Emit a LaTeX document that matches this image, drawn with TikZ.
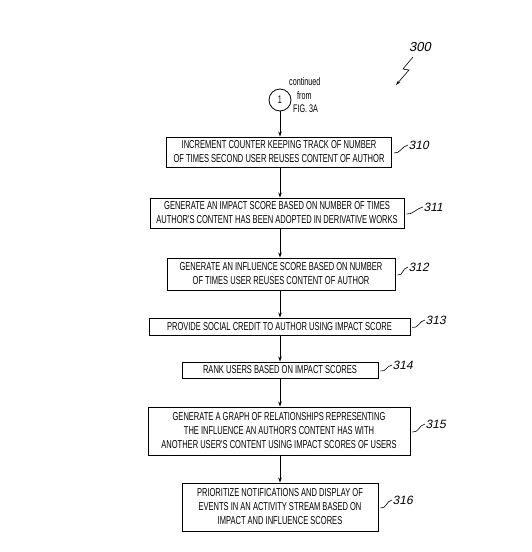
\documentclass[tikz,border=0pt]{standalone}
\usepackage{fontspec}
\setmainfont{Liberation Sans}
\newfontfamily\condfont[FakeStretch=0.655]{Liberation Sans}
\newfontfamily\reffont[FakeSlant=0.2]{Liberation Sans}
\usetikzlibrary{arrows.meta}
\tikzset{
  stepbox/.style={draw,line width=0.9pt,inner sep=0pt,align=center,
    font=\condfont\fontsize{11.5}{14}\selectfont},
  flow/.style={line width=0.8pt,-{Stealth[length=5pt,width=3.5pt]}},
  reflabel/.style={anchor=west,inner sep=0.5pt,font=\reffont\fontsize{12}{12}\selectfont},
  squig/.style={line width=0.6pt}
}
\begin{document}
\begin{tikzpicture}[x=1pt,y=-1pt]
  \useasboundingbox (0,0) rectangle (532,552);
  % connector and its note
  \node[draw,circle,line width=0.8pt,minimum size=22pt,inner sep=0pt,
    font=\condfont\fontsize{11}{11}\selectfont] (c1) at (280,100) {1};
  \begin{scope}[font=\condfont\fontsize{11}{11}\selectfont,inner sep=0pt]
    \node[anchor=west] (cont) at (289,82) {continued};
    \node[anchor=west] (from) at (297,96) {from};
    \node[anchor=west] (fig) at (293,109) {FIG. 3A};
  \end{scope}
  % reference numeral of the figure
  \node[font=\reffont\fontsize{13}{13}\selectfont,inner sep=0pt] (l300) at (420,47) {300};
  \coordinate (z300) at (396,85);
  \draw[line width=0.6pt,-{Stealth[length=5pt,width=3pt]}]
    (413,57) -- (403,69) -- (409,70) -- (z300);
  % steps
  \node[stepbox,minimum width=225pt,minimum height=30pt] (s310) at (279,152)
    {INCREMENT COUNTER KEEPING TRACK OF NUMBER\\OF TIMES SECOND USER REUSES CONTENT OF AUTHOR};
  \node[stepbox,minimum width=254pt,minimum height=30pt] (s311) at (277,213)
    {GENERATE AN IMPACT SCORE BASED ON NUMBER OF TIMES\\AUTHOR'S CONTENT HAS BEEN ADOPTED IN DERIVATIVE WORKS};
  \node[stepbox,minimum width=228pt,minimum height=32pt] (s312) at (281,274)
    {GENERATE AN INFLUENCE SCORE BASED ON NUMBER\\OF TIMES USER REUSES CONTENT OF AUTHOR};
  \node[stepbox,minimum width=261pt,minimum height=17pt] (s313) at (279.5,326.5)
    {PROVIDE SOCIAL CREDIT TO AUTHOR USING IMPACT SCORE};
  \node[stepbox,minimum width=196pt,minimum height=16pt] (s314) at (280,370)
    {RANK USERS BASED ON IMPACT SCORES};
  \node[stepbox,minimum width=262pt,minimum height=48pt] (s315) at (279,431)
    {GENERATE A GRAPH OF RELATIONSHIPS REPRESENTING\\THE INFLUENCE AN AUTHOR'S CONTENT HAS WITH\\ANOTHER USER'S CONTENT USING IMPACT SCORES OF USERS};
  \node[stepbox,minimum width=196pt,minimum height=48pt] (s316) at (280,507)
    {PRIORITIZE NOTIFICATIONS AND DISPLAY OF\\EVENTS IN AN ACTIVITY STREAM BASED ON\\IMPACT AND INFLUENCE SCORES};
  % flow lines
  \draw[flow] (c1) -- (c1 |- s310.north);
  \foreach \a/\b in {s310/s311,s311/s312,s312/s313,s313/s314,s314/s315,s315/s316}
    \draw[flow] (c1 |- \a.south) -- (c1 |- \b.north);
  % reference numerals of the steps
  \node[reflabel] (l310) at (408,145) {310};
  \node[reflabel] (l311) at (423,207) {311};
  \node[reflabel] (l312) at (408,267) {312};
  \node[reflabel] (l313) at (425,320) {313};
  \node[reflabel] (l314) at (392,365) {314};
  \node[reflabel] (l315) at (425,424) {315};
  \node[reflabel] (l316) at (392,500) {316};
  \foreach \n in {310,311,312,313,314,315,316}
    \draw[squig] ([xshift=2pt,yshift=-1pt]s\n.east) .. controls +(6,1) and +(-6,1) .. (l\n.west);
\end{tikzpicture}
\end{document}
